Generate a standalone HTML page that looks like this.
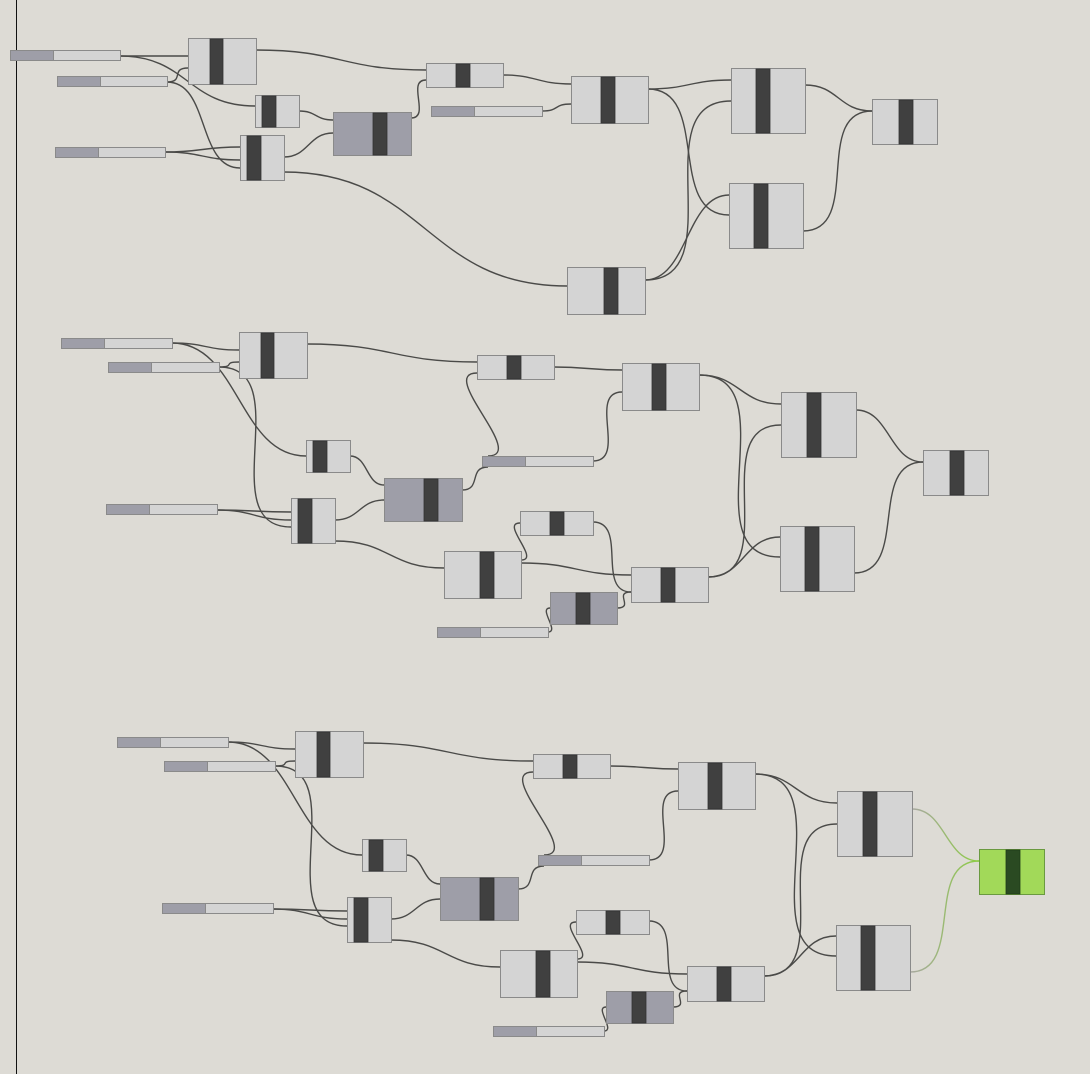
<!DOCTYPE html>
<html><head><meta charset="utf-8"><style>
html,body{margin:0;padding:0;background:#dddbd5;}
svg{display:block;}
</style></head><body>
<svg id="canvas" width="1090" height="1074" viewBox="0 0 1090 1074" xmlns="http://www.w3.org/2000/svg">
<rect x="0" y="0" width="1090" height="1074" fill="#dddbd5"/>
<line x1="16.5" y1="0" x2="16.5" y2="1074" stroke="#111" stroke-width="1"/>
<g id="wires"></g>
<g id="nodes"></g>
</svg>
<script>
// Block 1 sliders: x, y, width
const sliders1 = [[10,50,110],[57,76,110],[55,147,110],[431,106,111]];
// Block 1 components: x, y, w, h, barX, barW, kind(0 light,1 gray)
const comps1 = [
 [188,38,68,46,210,13,0],[255,95,44,32,262,14,0],[240,135,44,45,247,14,0],
 [333,112,78,43,373,14,1],[426,63,77,24,456,14,0],[571,76,77,47,601,14,0],
 [731,68,74,65,756,14,0],[729,183,74,65,754,14,0],[567,267,78,47,604,14,0],
 [872,99,65,45,899,14,0]];
// Block 1 wires: x1,y1,x2,y2,bend
const wires1 = [
 [120,56,188,56,0],[120,56,255,106,0],[167,82,188,68,0],[167,82,240,168,0],
 [165,152,240,147,0],[165,152,240,160,0],[256,50,426,70,0],[299,111,333,120,0],
 [284,157,333,133,0],[284,172,567,286,0],[411,118,426,80,20],[503,75,571,84,0],
 [542,111,571,104,0],[648,89,731,80,0],[648,89,729,215,0],[645,280,729,195,0],
 [645,280,731,101,0],[805,85,872,111,0],[803,231,872,111,0]];
// Block 2 (repeated as block 3 at offset)
const sliders2 = [[61,338,111],[108,362,111],[106,504,111],[482,456,111],[437,627,111]];
const comps2 = [
 [239,332,68,46,261,13,0],[306,440,44,32,313,14,0],[291,498,44,45,298,14,0],
 [384,478,78,43,424,14,1],[477,355,77,24,507,14,0],[622,363,77,47,652,14,0],
 [781,392,75,65,807,14,0],[780,526,74,65,805,14,0],[923,450,65,45,950,14,0],
 [520,511,73,24,550,14,0],[444,551,77,47,480,14,0],[631,567,77,35,661,14,0],
 [550,592,67,32,576,14,1]];
const wires2 = [
 [172,343,239,350,0],[172,343,306,456,0],[219,367,239,362,0],[219,367,291,527,0],
 [217,510,291,512,0],[217,510,291,520,0],[307,344,477,362,0],[350,456,384,485,0],
 [335,520,384,500,0],[335,541,444,568,0],[488,456,477,373,40],[462,490,488,467,20],
 [593,461,622,392,0],[554,367,622,370,0],[699,375,781,404,0],[699,375,780,557,0],
 [521,563,631,575,0],[521,560,520,523,20],[593,522,631,592,0],[617,608,631,592,0],
 [548,632,550,608,12],[708,577,781,425,0],[708,577,780,537,0],
 [856,410,923,462,0],[854,573,923,462,0]];
const NS='http://www.w3.org/2000/svg';
const W=document.getElementById('wires'), N=document.getElementById('nodes');
function mk(t,a){const e=document.createElementNS(NS,t);for(const k in a)e.setAttribute(k,a[k]);return e;}
function wire(w,ox,oy,green){
 const [x1,y1,x2,y2,b]=w; const X1=x1+ox,Y1=y1+oy,X2=x2+ox,Y2=y2+oy;
 const d=b?b:Math.max(Math.abs(X2-X1)*0.5,Math.abs(Y2-Y1)*0.5,18);
 const p=mk('path',{d:`M${X1},${Y1} C${X1+d},${Y1} ${X2-d},${Y2} ${X2},${Y2}`,fill:'none',stroke:green?'url(#gw)':'#4a4a48','stroke-width':1.4});
 
 
 W.appendChild(p);
}
function slider(s,ox,oy){
 const g=mk('g',{});
 
 
 const x=s[0]+ox,y=s[1]+oy,w=s[2];
 g.appendChild(mk('rect',{x:x+.5,y:y+.5,width:w,height:10,fill:'#d4d4d4',stroke:'#8a8a8a'}));
 g.appendChild(mk('rect',{x:x+.5,y:y+.5,width:43,height:10,fill:'#9e9ea8',stroke:'#8a8a8a'}));
 N.appendChild(g);
}
function comp(c,ox,oy,green){
 const g=mk('g',{});
 
 
 const [x,y,w,h,bx,bw,k]=c;
 const fill=green?'#a2d959':(k?'#9e9ea8':'#d4d4d4');
 g.appendChild(mk('rect',{x:x+ox+.5,y:y+oy+.5,width:w,height:h,fill:fill,stroke:green?'#6a9a40':'#8a8a8a'}));
 g.appendChild(mk('rect',{x:bx+ox,y:y+oy+1,width:bw,height:h-1,fill:green?'#2a4a22':'#404040',stroke:green?'#1e3a18':'#333','stroke-width':.8}));
 N.appendChild(g);
}
const defs=mk('defs',{});
const lg=mk('linearGradient',{id:'gw',x1:'0',y1:'0',x2:'1',y2:'0'});
lg.appendChild(mk('stop',{offset:'0','stop-color':'#a8a8a0'}));
lg.appendChild(mk('stop',{offset:'1','stop-color':'#8ccc44'}));
defs.appendChild(lg);document.getElementById('canvas').prepend(defs);
wires1.forEach(w=>wire(w,0,0,false));
sliders1.forEach(s=>slider(s,0,0));
comps1.forEach(c=>comp(c,0,0,false));
wires2.forEach(w=>wire(w,0,0,false));
sliders2.forEach(s=>slider(s,0,0));
comps2.forEach(c=>comp(c,0,0,false));
wires2.forEach((w,i)=>wire(w,56,399,i>=23));
sliders2.forEach(s=>slider(s,56,399));
comps2.forEach((c,i)=>comp(c,56,399,i===8));
</script>
</body></html>
